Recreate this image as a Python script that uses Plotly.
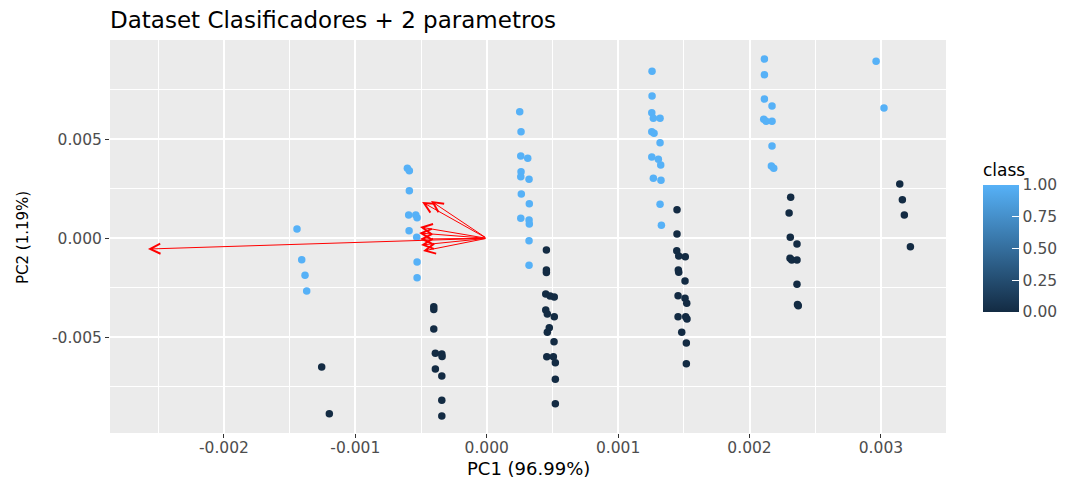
import plotly.graph_objects as go

# PCA scores, class 1 observations
pc1_class1 = [
    -0.001444, -0.001408, -0.001383, -0.001370,
    -0.000604, -0.000589, -0.000589, -0.000594, -0.000540, -0.000530, -0.000591, -0.000533, -0.000530, -0.000530,
    0.000251, 0.000261, 0.000259, 0.000312, 0.000261, 0.000259, 0.000322, 0.000263, 0.000324, 0.000259, 0.000322,
    0.000324, 0.000322, 0.000322,
    0.001258, 0.001258, 0.001256, 0.001268, 0.001319, 0.001256, 0.001273, 0.001319, 0.001256, 0.001306, 0.001324,
    0.001268, 0.001326, 0.001319, 0.001329,
    0.002113, 0.002113, 0.002113, 0.002171, 0.002108, 0.002126, 0.002171, 0.002171, 0.002166, 0.002184,
    0.002963, 0.003023,
]
pc2_class1 = [
    0.000470, -0.001081, -0.001869, -0.002662,
    0.003535, 0.003414, 0.002404, 0.001177, 0.001177, 0.001040, 0.000384, 0.000051, -0.001197, -0.001990,
    0.006394, 0.005384, 0.004157, 0.004040, 0.003364, 0.003111, 0.002980, 0.002237, 0.001747, 0.001010, 0.000924,
    0.000722, -0.000121, -0.001364,
    0.008434, 0.007187, 0.006343, 0.006061, 0.006061, 0.005384, 0.005303, 0.004828, 0.004106, 0.003990, 0.003702,
    0.003030, 0.002929, 0.001717, 0.000657,
    0.009056, 0.008263, 0.007035, 0.006682, 0.006010, 0.005909, 0.005909, 0.004662, 0.003651, 0.003535,
    0.008939, 0.006581,
]

# PCA scores, class 0 observations
pc1_class0 = [
    -0.001256, -0.001198,
    -0.000403, -0.000403, -0.000403, -0.000391, -0.000342, -0.000340, -0.000391, -0.000342, -0.000342, -0.000342,
    0.000454, 0.000454, 0.000454, 0.000449, 0.000482, 0.000514, 0.000449, 0.000461, 0.000514, 0.000476, 0.000461,
    0.000512, 0.000457, 0.000507, 0.000522, 0.000522, 0.000522,
    0.001448, 0.001448, 0.001446, 0.001461, 0.001511, 0.001458, 0.001461, 0.001509, 0.001456, 0.001509, 0.001522,
    0.001456, 0.001514, 0.001524, 0.001484, 0.001519, 0.001519,
    0.002313, 0.002301, 0.002310, 0.002361, 0.002308, 0.002321, 0.002361, 0.002361, 0.002371, 0.002365,
    0.003143, 0.003163, 0.003178, 0.003224,
]
pc2_class0 = [
    -0.006500, -0.008858,
    -0.003455, -0.003596, -0.004581, -0.005808, -0.005843, -0.005970, -0.006601, -0.006955, -0.008182, -0.008975,
    -0.000591, -0.001601, -0.001727, -0.002813, -0.002914, -0.002965, -0.003621, -0.003823, -0.003960, -0.004515,
    -0.004747, -0.005222, -0.005980, -0.005980, -0.006283, -0.007121, -0.008353,
    0.001444, 0.000217, -0.000626, -0.000894, -0.000929, -0.001601, -0.001717, -0.002157, -0.002899, -0.003030,
    -0.003283, -0.003960, -0.003960, -0.004076, -0.004747, -0.005288, -0.006333,
    0.002071, 0.001278, 0.000051, -0.000288, -0.001010, -0.001096, -0.001096, -0.002323, -0.003404, -0.003343,
    0.002742, 0.001949, 0.001177, -0.000424,
]

# Variable loading vectors (arrow tips, drawn from the origin)
loading_pc1 = [-0.002578, -0.000492, -0.000424, -0.000508, -0.000515, -0.000508, -0.000500, -0.000485]
loading_pc2 = [-0.000540, 0.001833, 0.001884, 0.000571, 0.000268, -0.000035, -0.000338, -0.000641]

x_ticks = [-0.002, -0.001, 0.0, 0.001, 0.002, 0.003]
x_tick_text = ["-0.002", "-0.001", "0.000", "0.001", "0.002", "0.003"]
y_ticks = [-0.005, 0.0, 0.005]
y_tick_text = ["-0.005", "0.000", "0.005"]
class_ticks = [0, 0.25, 0.5, 0.75, 1]
class_tick_text = ["0.00", "0.25", "0.50", "0.75", "1.00"]

pc1 = pc1_class0 + pc1_class1
pc2 = pc2_class0 + pc2_class1
cls = [0] * len(pc1_class0) + [1] * len(pc1_class1)

FONT = "DejaVu Sans"
TICK_COLOR = "#4D4D4D"

# Figure / panel geometry (pixels)
W, H = 1068, 478
M_L, M_R, M_T, M_B = 110, 122, 40, 45
PW, PH = W - M_L - M_R, H - M_T - M_B
BAR_LEFT, BAR_W = 983, 36
BAR_BOTTOM, BAR_H = 312, 128
BAR_TITLE_H = 24


def px_x(px):
    return (px - M_L) / PW


def px_y(py):
    return (H - M_B - py) / PH


fig = go.Figure()
fig.add_trace(go.Scatter(
    x=pc1, y=pc2, mode="markers",
    marker=dict(size=7.5, color=cls, coloraxis="coloraxis", line=dict(width=0)),
    showlegend=False, hoverinfo="x+y",
))

for lx, ly in zip(loading_pc1, loading_pc2):
    fig.add_annotation(
        x=lx, y=ly, ax=0, ay=0, xref="x", yref="y", axref="x", ayref="y",
        text="", showarrow=True, arrowhead=5, arrowsize=2, arrowwidth=1,
        arrowcolor="#FF0000", standoff=0, startstandoff=0,
    )

# Axis titles
fig.add_annotation(
    text="PC1 (96.99%)", xref="paper", yref="paper",
    x=px_x((M_L + W - M_R) / 2), y=px_y(468), xanchor="center", yanchor="middle",
    showarrow=False, font=dict(family=FONT, size=18, color="black"),
)
fig.add_annotation(
    text="PC2 (1.19%)", xref="paper", yref="paper", textangle=-90,
    x=px_x(23), y=px_y(238), xanchor="center", yanchor="middle",
    showarrow=False, font=dict(family=FONT, size=15, color="black"),
)

# White tick marks on the left edge of the colour bar
for v in class_ticks:
    ty = px_y(BAR_BOTTOM - v * BAR_H)
    fig.add_shape(
        type="line", xref="paper", yref="paper",
        x0=px_x(BAR_LEFT), x1=px_x(BAR_LEFT + 7), y0=ty, y1=ty,
        line=dict(color="white", width=1),
    )

fig.update_layout(
    width=W, height=H,
    margin=dict(l=M_L, r=M_R, t=M_T, b=M_B, autoexpand=False),
    paper_bgcolor="white", plot_bgcolor="#EBEBEB",
    font=dict(family=FONT, color="black"),
    title=dict(
        text="Dataset Clasificadores + 2 parametros",
        x=M_L / W, xref="container", xanchor="left",
        y=1 - 20 / H, yref="container", yanchor="middle",
        font=dict(family=FONT, size=23, color="black"),
    ),
    coloraxis=dict(
        cmin=0, cmax=1,
        colorscale=[[0, "#132B43"], [1, "#56B1F7"]],
        colorbar=dict(
            title=dict(text="class", side="top", font=dict(family=FONT, size=17, color="black")),
            x=px_x(BAR_LEFT), xanchor="left", xpad=0,
            y=px_y(BAR_BOTTOM), yanchor="bottom", ypad=0,
            thickness=BAR_W, thicknessmode="pixels",
            len=BAR_H + BAR_TITLE_H, lenmode="pixels",
            outlinewidth=0,
            tickvals=class_ticks, ticktext=class_tick_text,
            ticks="inside", ticklen=7, tickcolor="white", tickwidth=1,
            tickfont=dict(family=FONT, size=15.5, color=TICK_COLOR),
        ),
    ),
)

fig.update_xaxes(
    range=[-0.002867, 0.003495], automargin=False,
    tickvals=x_ticks, ticktext=x_tick_text,
    tickfont=dict(family=FONT, size=15.5, color=TICK_COLOR),
    ticks="outside", ticklen=4, tickcolor="#333333", tickwidth=1,
    ticklabelstandoff=-4,
    showgrid=True, gridcolor="white", gridwidth=1.6,
    minor=dict(dtick=0.0005, tick0=0.0005, showgrid=True, gridcolor="white", gridwidth=0.8, ticks=""),
    zeroline=False, showline=False,
)
fig.update_yaxes(
    range=[-0.00983, 0.010015], automargin=False,
    tickvals=y_ticks, ticktext=y_tick_text,
    tickfont=dict(family=FONT, size=15.5, color=TICK_COLOR),
    ticks="outside", ticklen=4, tickcolor="#333333", tickwidth=1,
    showgrid=True, gridcolor="white", gridwidth=1.6,
    minor=dict(dtick=0.0025, tick0=0.0025, showgrid=True, gridcolor="white", gridwidth=0.8, ticks=""),
    zeroline=False, showline=False,
)

fig.write_html("out.html")
